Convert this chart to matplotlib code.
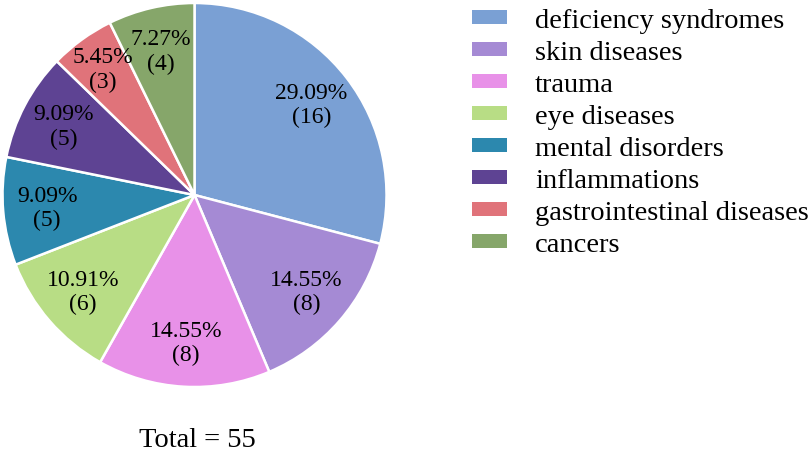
import matplotlib
matplotlib.use("Agg")
import numpy as np
import matplotlib.pyplot as plt

plt.rcParams['font.family'] = ['Liberation Serif', 'DejaVu Serif']

categories = ["deficiency syndromes", "skin diseases", "trauma", "eye diseases",
              "mental disorders", "inflammations", "gastrointestinal diseases", "cancers"]
counts = [16, 8, 8, 6, 5, 5, 3, 4]
colors = ["#7AA0D4", "#A58AD4", "#E891E8", "#B8DD85",
          "#2C88AE", "#5E4393", "#E0737A", "#86A66A"]
total = sum(counts)

fig = plt.figure(figsize=(8.09, 4.60), dpi=100)
ax = fig.add_axes([0.0031, 0.1565, 0.4747, 0.8348])


def fmt(p):
    return "%.2f%%\n(%d)" % (p, round(p * total / 100))


wedges, texts, autotexts = ax.pie(
    counts, colors=colors, startangle=90, counterclock=False,
    autopct=fmt, pctdistance=0.77, radius=1,
    wedgeprops=dict(edgecolor="white", linewidth=1.8),
    textprops=dict(fontsize=17, color="black"))
ax.set_xlim(-1, 1)
ax.set_ylim(-1, 1)
ax.set_aspect("equal")

# the small gastrointestinal label sits a bit further out
w = wedges[6]
ang = np.deg2rad((w.theta1 + w.theta2) / 2)
autotexts[6].set_position((0.81 * np.cos(ang), 0.81 * np.sin(ang)))

leg = fig.legend(wedges, categories, loc="upper left", bbox_to_anchor=(0.584, 0.98),
                 frameon=False, fontsize=20.5, handlelength=1.2, handleheight=0.35,
                 handletextpad=1.0, labelspacing=0.245, borderpad=0, borderaxespad=0)
for h in leg.legend_handles:
    h.set_edgecolor("none")

fig.text(0.2435, 0.043, "Total = %d" % total, ha="center", va="center", fontsize=20.5)

fig.savefig("out.png", dpi=100)
